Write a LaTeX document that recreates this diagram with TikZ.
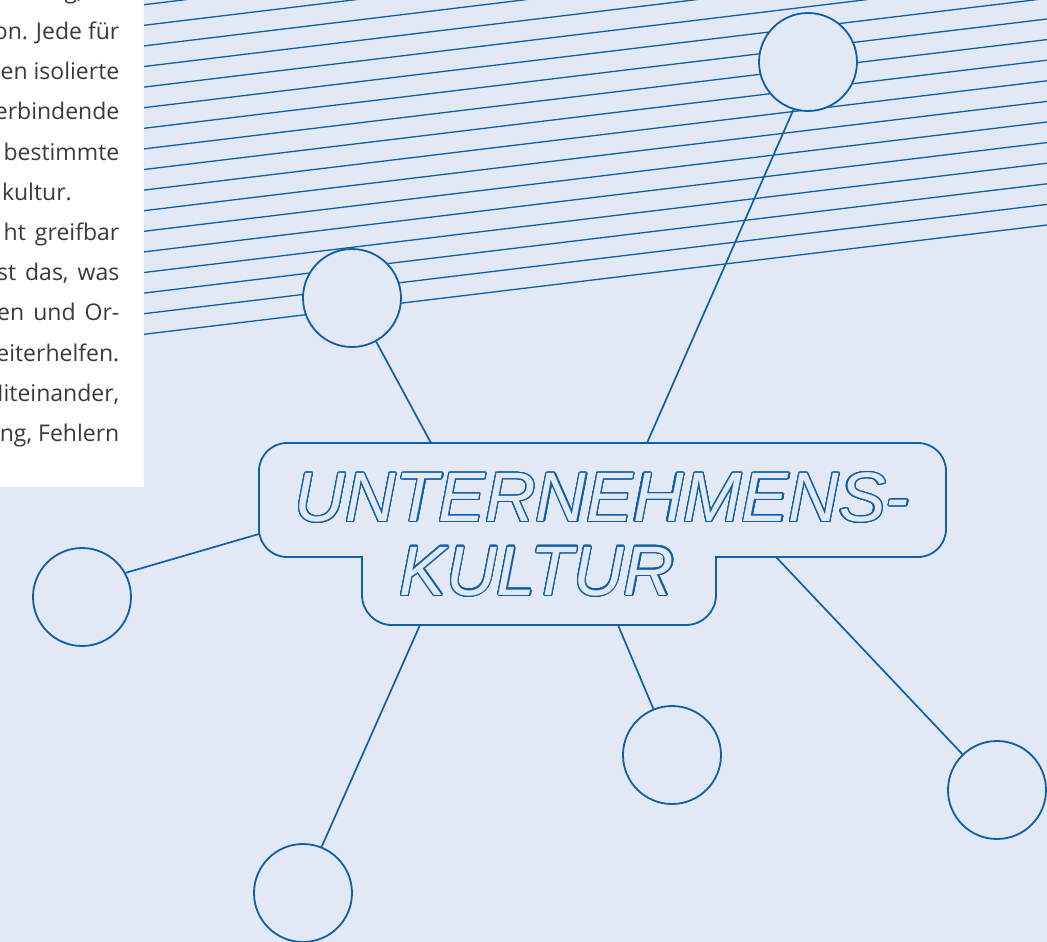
\documentclass[tikz,border=0pt]{standalone}
\usepackage{fontspec}
\setmainfont{Open Sans}
\newfontfamily\headfont{Liberation Sans}
\usepackage[copies]{contour}
\contourlength{1.2pt}
\contournumber{32}
\definecolor{bg}{HTML}{E2E9F5}
\definecolor{ink}{HTML}{0F5FA6}
\definecolor{txt}{HTML}{3A3A3A}
\begin{document}
\begin{tikzpicture}[x=1pt,y=-1pt,
  bubble/.style={circle,draw=ink,fill=bg,line width=1.8pt,minimum size=98pt,inner sep=0pt},
  conn/.style={draw=ink,line width=1.7pt},
  hatch/.style={draw=ink,line width=1.3pt},
  hub/.style={draw=ink,fill=bg,line width=1.8pt},
  headtext/.style={anchor=base,inner sep=0pt,font=\headfont\itshape\fontsize{70}{70}\selectfont},
  body/.style={anchor=base east,inner sep=0pt,text=txt,font=\fontsize{23}{28}\selectfont}]
\fill[bg] (0,0) rectangle (1047,942);
\useasboundingbox (0,0) rectangle (1047,942);
% hatch lines
\begin{scope}
  \clip (144,0) rectangle (1047,942);
  \foreach \k in {0,...,16}
    \draw[hatch] (144,{334.3-20.6*\k}) -- (1047,{225-20.6*\k});
\end{scope}
% white text panel
\begin{scope}
  \clip (0,0) rectangle (143.5,487);
  \fill[white] (0,0) rectangle (143.5,487);
  \node[body] (t0) at (83,-1) {g,};
  \node[body] (t1) at (119.5,39.5) {on. Jede für};
  \node[body] (t2) at (119.5,79.7) {ben isolierte};
  \node[body] (t3) at (119.5,119.9) {erbindende};
  \node[body] (t4) at (119.5,160.1) {bestimmte};
  \node[body] (t5) at (72,200.3) {kultur.};
  \node[body] (t6) at (119.5,240.5) {ht\hspace{9pt}greifbar};
  \node[body] (t7) at (119.5,280.7) {st\hspace{9pt}das,\hspace{9pt}was};
  \node[body] (t8) at (119.5,320.9) {en\hspace{9pt}und\hspace{9pt}Or-};
  \node[body] (t9) at (119.5,361.1) {eiterhelfen.};
  \node[body] (t10) at (119.5,401.3) {Miteinander,};
  \node[body] (t11) at (119.5,441.5) {ng, Fehlern};
\end{scope}
% central shape
\path[hub] (287,443) -- (918,443) .. controls (933.5,443) and (946,455.5) .. (946,471)
  -- (946,529) .. controls (946,544.5) and (933.5,557) .. (918,557)
  -- (716,557) -- (716,595) .. controls (716,611.6) and (702.6,625) .. (686,625)
  -- (392,625) .. controls (375.4,625) and (362,611.6) .. (362,595)
  -- (362,557) -- (287,557) .. controls (271.5,557) and (259,544.5) .. (259,529)
  -- (259,471) .. controls (259,455.5) and (271.5,443) .. (287,443) -- cycle;
\coordinate (s1) at (647,443);
\coordinate (s2) at (431,443);
\coordinate (s3) at (259,534);
\coordinate (s4) at (420,625);
\coordinate (s5) at (618,625);
\coordinate (s6) at (776,557);
\node[headtext] (h1) at (602,521.5) {\contour{ink}{\textcolor{bg}{UNTERNEHMENS-}}};
\node[headtext] (h2) at (537,595) {\contour{ink}{\textcolor{bg}{KULTUR}}};
% circles
\node[bubble] (c1) at (808,62) {};
\node[bubble] (c2) at (352,298) {};
\node[bubble] (c3) at (82,597) {};
\node[bubble] (c4) at (303,893) {};
\node[bubble] (c5) at (672,755) {};
\node[bubble] (c6) at (997,790) {};
% connectors
\draw[conn] (c1.-107) -- (s1);
\draw[conn] (c2.-61) -- (s2);
\draw[conn] (c3.29) -- (s3);
\draw[conn] (c4.68) -- (s4);
\draw[conn] (c5.112) -- (s5);
\draw[conn] (c6.134) -- (s6);
\end{tikzpicture}
\end{document}
